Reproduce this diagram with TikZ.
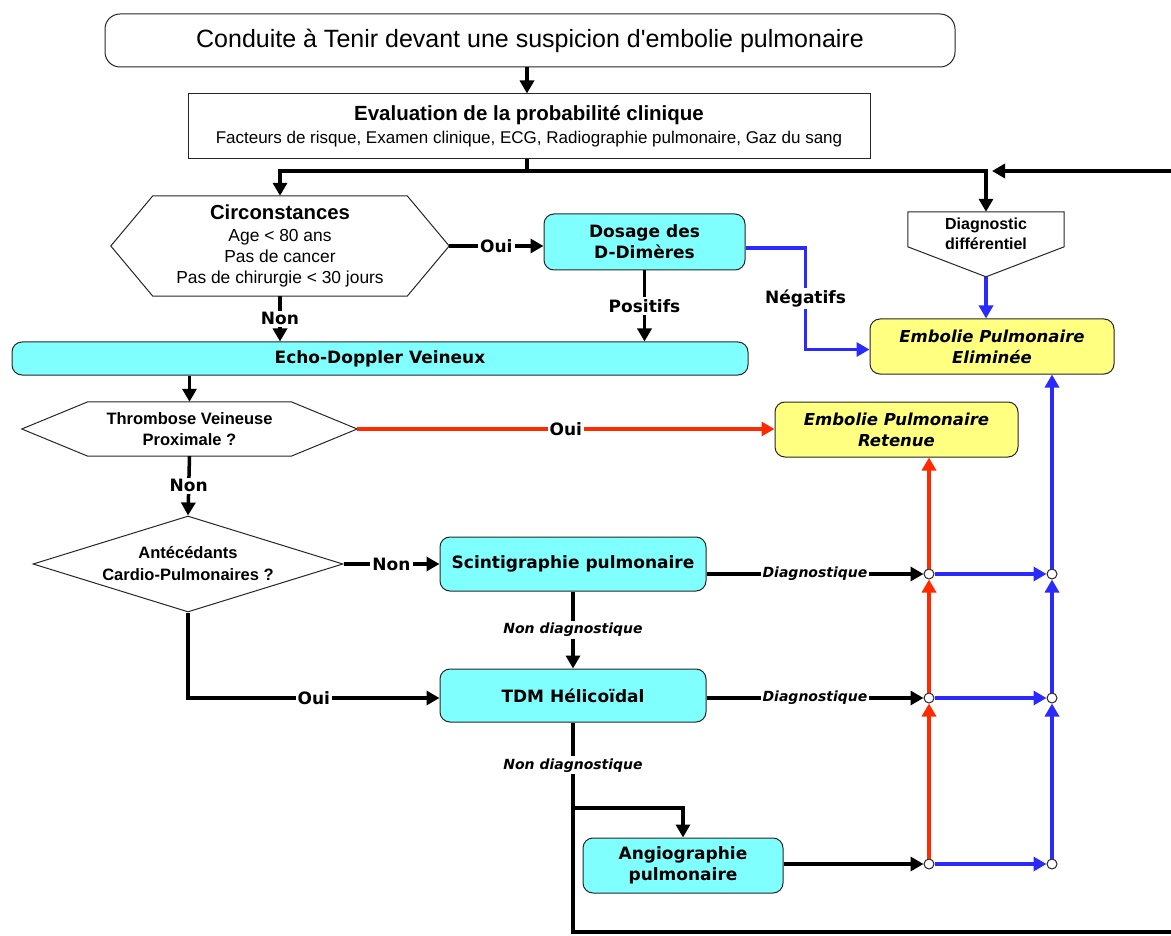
\documentclass[tikz,border=0pt]{standalone}
\usepackage{fontspec}
\setmainfont{Liberation Sans}
\setsansfont{DejaVu Sans}
\usetikzlibrary{arrows.meta,shapes.geometric,calc}
\definecolor{cyanc}{HTML}{80FFFF}
\definecolor{jaune}{HTML}{FFFF80}
\definecolor{rougec}{HTML}{FF2A00}
\definecolor{bleuc}{HTML}{2A2AFF}

\begin{document}
\begin{tikzpicture}[x=1pt, y=-1pt,
    >={Triangle[length=13pt,width=14pt]},
    trait/.style={line width=3.5pt},
    contour/.style={draw=black!85, line width=1pt},
    boite/.style={contour, fill=cyanc, rounded corners=10pt, align=center, inner sep=0pt,
        font=\sffamily\bfseries\fontsize{17}{21}\selectfont},
    ep/.style={boite, fill=jaune, font=\sffamily\bfseries\itshape\fontsize{16.5}{21}\selectfont},
    hexa/.style={inner sep=0pt, align=center},
    lbl/.style={fill=white, text=black, inner sep=2pt, font=\sffamily\bfseries\fontsize{17}{20}\selectfont},
    lbli/.style={lbl, font=\sffamily\bfseries\itshape\fontsize{14}{16}\selectfont},
    rond/.style={circle, contour, fill=white, inner sep=0pt, minimum size=10pt}]

    \useasboundingbox (0,0) rectangle (1171,936);

    \node[contour, rounded corners=15pt, minimum width=850pt, minimum height=53pt,
        font=\fontsize{25}{28}\selectfont] (titre) at (530,40.5)
        {Conduite à Tenir devant une suspicion d\textquotesingle embolie pulmonaire};
    \node[contour, minimum width=682pt, minimum height=65pt, align=center,
        font=\fontsize{17}{23}\selectfont] (eval) at (529,126.5)
        {{\bfseries\fontsize{20.5}{22}\selectfont Evaluation de la probabilité clinique}\\
         Facteurs de risque, Examen clinique, ECG, Radiographie pulmonaire, Gaz du sang};

    \node[hexa, minimum width=338pt, minimum height=100pt, font=\fontsize{17.4}{21}\selectfont] (circ) at (280,246)
        {{\bfseries\fontsize{20.3}{21}\selectfont Circonstances}\\[1pt]Age < 80 ans\\Pas de cancer\\Pas de chirurgie < 30 jours};
    \draw[contour] (circ.west) -- ([xshift=42pt]circ.north west) -- ([xshift=-42pt]circ.north east)
        -- (circ.east) -- ([xshift=-42pt]circ.south east) -- ([xshift=42pt]circ.south west) -- cycle;

    \node[boite, minimum width=201pt, minimum height=56pt] (dos) at (644.5,242) {Dosage des\\D-Dimères};
    \node[boite, minimum width=736pt, minimum height=33pt] (echo) at (380,358.5) {Echo-Doppler Veineux};

    \node[hexa, minimum width=335pt, minimum height=54pt, font=\bfseries\fontsize{16.5}{21}\selectfont] (thr) at (189.5,429)
        {Thrombose Veineuse\\Proximale ?};
    \draw[contour] (thr.west) -- ([xshift=66pt]thr.north west) -- ([xshift=-66pt]thr.north east)
        -- (thr.east) -- ([xshift=-66pt]thr.south east) -- ([xshift=66pt]thr.south west) -- cycle;

    \node[diamond, aspect=3.2, contour, inner sep=0pt, minimum width=310pt, minimum height=96pt, align=center,
        font=\bfseries\fontsize{16.5}{22}\selectfont] (ant) at (188,564) {Antécédants\\Cardio-Pulmonaires ?};

    \node[boite, minimum width=266pt, minimum height=54pt] (sci) at (573,564) {Scintigraphie pulmonaire};
    \node[boite, minimum width=266pt, minimum height=53pt] (tdm) at (573,695.5) {TDM Hélicoïdal};
    \node[boite, minimum width=200pt, minimum height=55pt] (angio) at (683,865.5) {Angiographie\\pulmonaire};

    \node[inner sep=0pt, minimum width=156pt, minimum height=44pt, align=center,
        font=\bfseries\fontsize{16}{20}\selectfont] (diag) at (986,234) {Diagnostic\\différentiel};
    \coordinate (dtip) at ($(diag.north)+(0,65)$);
    \draw[contour] (diag.north west) -- (diag.north east) -- ($(diag.north east)+(0,35)$)
        -- (dtip) -- ($(diag.north west)+(0,35)$) -- cycle;

    \node[ep, minimum width=244pt, minimum height=55pt] (eli) at (992,346.5) {Embolie Pulmonaire\\Eliminée};
    \node[ep, minimum width=243pt, minimum height=55pt] (ret) at (896.5,429.5) {Embolie Pulmonaire\\Retenue};

    \node[rond] (a1) at (929,574) {};
    \node[rond] (a2) at (929,698) {};
    \node[rond] (a3) at (929,864) {};
    \node[rond] (b1) at (1052,574) {};
    \node[rond] (b2) at (1052,698) {};
    \node[rond] (b3) at (1052,864) {};

    \coordinate (j) at (527,171);
    \coordinate (k) at (992,171);
    \coordinate (b) at (573,808);
    \coordinate (r1) at (1176,932);
    \coordinate (r2) at (1176,171);

    \draw[trait, ->] (titre.south -| j) -- (eval.north -| j);
    \draw[trait, ->] (eval.south -| j) -- (j) -| (circ.north);
    \draw[trait, ->] (j) -| (diag.north);
    \draw[trait, ->] (circ.east) -- node[lbl] {Oui} (circ.east -| dos.west);
    \draw[trait, ->] (circ.south) -- node[lbl] {Non} (circ.south |- echo.north);
    \draw[trait, ->] (dos.south) -- node[lbl] {Positifs} (dos.south |- echo.north);
    \draw[trait, bleuc, ->] ($(dos.east)+(0,6)$) -- ++(60,0) |- node[lbl, pos=0.25] {Négatifs} ($(eli.west)+(0,3)$);
    \draw[trait, bleuc, ->] (dtip) -- (dtip |- eli.north);
    \draw[trait, ->] (thr.north |- echo.south) -- (thr.north);
    \draw[trait, rougec, ->] (thr.east) -- node[lbl] {Oui} (thr.east -| ret.west);
    \draw[trait, ->] (thr.south) -- node[lbl] {Non} (ant.north);
    \draw[trait, ->] (ant.east) -- node[lbl] {Non} (sci.west);
    \draw[trait, ->] (ant.south) |- node[lbl, pos=0.75] {Oui} (tdm.west |- a2);
    \draw[trait, ->] (sci.south) -- node[lbli] {Non diagnostique} (tdm.north);
    \draw[trait, ->] (sci.east |- a1) -- node[lbli] {Diagnostique} (a1);
    \draw[trait, ->] (tdm.east |- a2) -- node[lbli] {Diagnostique} (a2);
    \draw[trait] (tdm.south) -- node[lbli] {Non diagnostique} (b);
    \draw[trait, ->] (b) -| (angio.north);
    \draw[trait, ->] (b) |- (r1) -- (r2) -- (k);
    \draw[trait, ->] (angio.east |- a3) -- (a3);

    \draw[trait, rougec, ->] (a3) -- (a2);
    \draw[trait, rougec, ->] (a2) -- (a1);
    \draw[trait, rougec, ->] (a1) -- (a1 |- ret.south);
    \draw[trait, bleuc, ->] (a1) -- (b1);
    \draw[trait, bleuc, ->] (a2) -- (b2);
    \draw[trait, bleuc, ->] (a3) -- (b3);
    \draw[trait, bleuc, ->] (b3) -- (b2);
    \draw[trait, bleuc, ->] (b2) -- (b1);
    \draw[trait, bleuc, ->] (b1) -- (b1 |- eli.south);

\end{tikzpicture}
\end{document}
